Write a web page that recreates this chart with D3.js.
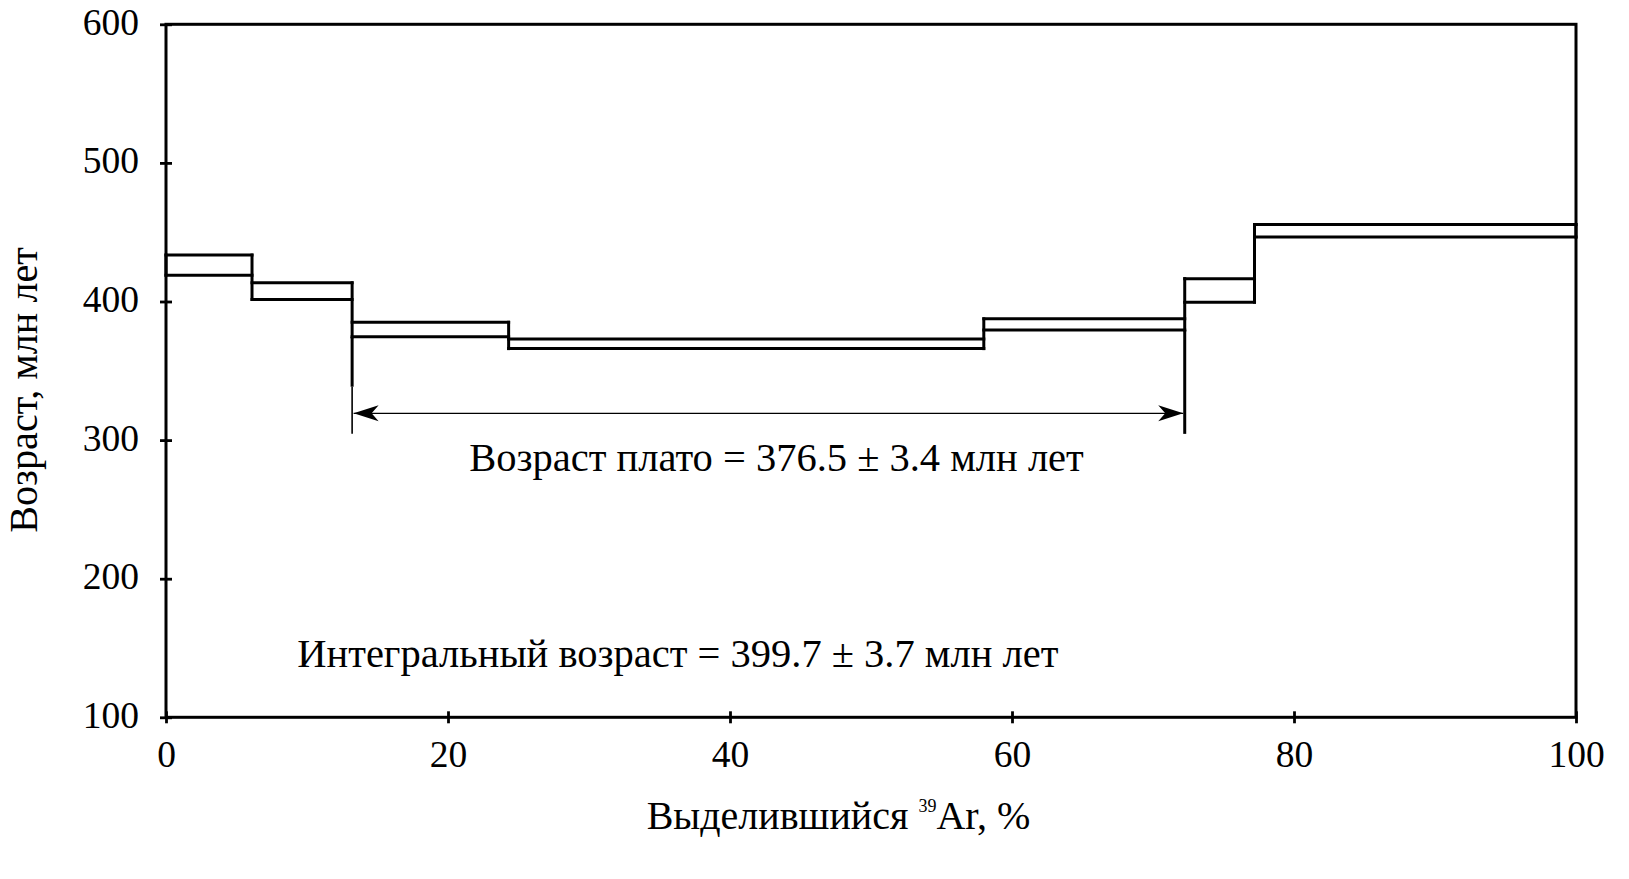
<!DOCTYPE html>
<html><head><meta charset="utf-8">
<script src="https://cdn.jsdelivr.net/npm/d3@7"></script>
<style>
body{margin:0;background:#fff;}
text{font-family:"Liberation Serif","Times New Roman",serif;fill:#000;}
</style>
</head><body>
<svg id="c" width="1629" height="879"></svg>
<script>
// ---- data ----
const stepEdges = [0, 6.1, 13.2, 24.3, 58.0, 72.25, 77.2, 100];   // % 39Ar released
const upperAge  = [433.5, 413.5, 385, 373, 387.5, 416.5, 455.5];  // Ma (age + error)
const lowerAge  = [419, 401.5, 374.5, 366, 379.5, 399.5, 446.5];  // Ma (age - error)
const xTickValues = [0, 20, 40, 60, 80, 100];
const yTickValues = [100, 200, 300, 400, 500, 600];
const plateauRange = [13.2, 72.25];
const plateauArrowAge = 319.3;
const plateauMarkerBottom = 304.5;
const plateauThickBottom = 338.5;
const plateauText = "Возраст плато = 376.5 ± 3.4 млн лет";
const integralText = "Интегральный возраст = 399.7 ± 3.7 млн лет";
const yTitle = "Возраст, млн лет";
const xTitleMain = "Выделившийся ", xTitleSup = "39", xTitleEnd = "Ar, %";

// ---- layout ----
const FONT = "Liberation Serif, Times New Roman, serif";
const x = d3.scaleLinear().domain([0, 100]).range([166, 1576]);
const y = d3.scaleLinear().domain([100, 600]).range([717.3, 24.3]);
const svg = d3.select("#c");
const SW = 3;

const defs = svg.append("defs");
defs.append("marker").attr("id", "ah")
  .attr("markerUnits", "userSpaceOnUse")
  .attr("viewBox", "-26 -9 27 18").attr("refX", 0).attr("refY", 0)
  .attr("markerWidth", 27).attr("markerHeight", 18)
  .attr("orient", "auto-start-reverse")
  .append("path").attr("d", "M0,0 L-25,-8 L-18,0 L-25,8 Z").attr("fill", "#000");

// steps: horizontal segments
const steps = upperAge.map((u, i) => ({x0: stepEdges[i], x1: stepEdges[i + 1], hi: u, lo: lowerAge[i]}));
const gs = svg.append("g").attr("stroke", "#000").attr("stroke-width", SW).attr("stroke-linecap", "square");
const hSegs = steps.flatMap(d => [{x0: d.x0, x1: d.x1, a: d.hi}, {x0: d.x0, x1: d.x1, a: d.lo}]);
gs.selectAll("line.h").data(hSegs).join("line").attr("class", "h")
  .attr("x1", d => x(d.x0)).attr("x2", d => x(d.x1))
  .attr("y1", d => y(d.a)).attr("y2", d => y(d.a));
// vertical connectors at each step edge
const vSegs = stepEdges.map((e, i) => {
  const adj = steps.slice(Math.max(0, i - 1), Math.min(steps.length, i + 1));
  return {x: e, top: d3.max(adj, d => d.hi), bot: d3.min(adj, d => d.lo)};
});
gs.selectAll("line.v").data(vSegs).join("line").attr("class", "v")
  .attr("x1", d => x(d.x)).attr("x2", d => x(d.x))
  .attr("y1", d => y(d.top)).attr("y2", d => y(d.bot));

// plateau markers
const i0 = stepEdges.indexOf(plateauRange[0]);
const i1 = stepEdges.indexOf(plateauRange[1]);
svg.append("line")
  .attr("x1", x(plateauRange[0])).attr("x2", x(plateauRange[0]))
  .attr("y1", y(vSegs[i0].bot)).attr("y2", y(plateauThickBottom))
  .attr("stroke", "#000").attr("stroke-width", SW);
svg.append("line")
  .attr("x1", x(plateauRange[0])).attr("x2", x(plateauRange[0]))
  .attr("y1", y(plateauThickBottom)).attr("y2", y(plateauMarkerBottom))
  .attr("stroke", "#000").attr("stroke-width", 1.6);
svg.append("line")
  .attr("x1", x(plateauRange[1])).attr("x2", x(plateauRange[1]))
  .attr("y1", y(vSegs[i1].bot)).attr("y2", y(plateauMarkerBottom))
  .attr("stroke", "#000").attr("stroke-width", SW);
svg.append("line")
  .attr("x1", x(plateauRange[0]) + 1.5).attr("x2", x(plateauRange[1]) - 1.5)
  .attr("y1", y(plateauArrowAge)).attr("y2", y(plateauArrowAge))
  .attr("stroke", "#000").attr("stroke-width", 1.3)
  .attr("marker-start", "url(#ah)").attr("marker-end", "url(#ah)");

// frame
svg.append("rect")
  .attr("x", x(0)).attr("y", y(600)).attr("width", x(100) - x(0)).attr("height", y(100) - y(600))
  .attr("fill", "none").attr("stroke", "#000").attr("stroke-width", 3);

// axes
const gx = svg.append("g").attr("transform", `translate(0,${y(100)})`)
  .call(d3.axisBottom(x).tickValues(xTickValues).tickSize(6).tickFormat(d3.format("d")));
gx.attr("font-family", FONT).attr("font-size", 37.5);
gx.select(".domain").remove();
gx.selectAll(".tick line").attr("y1", -6).attr("y2", 6).attr("stroke", "#000").attr("stroke-width", 2.8);
gx.selectAll(".tick text").attr("y", 50).attr("dy", null).attr("fill", "#000");

const gy = svg.append("g").attr("transform", `translate(${x(0)},0)`)
  .call(d3.axisLeft(y).tickValues(yTickValues).tickSize(6).tickFormat(d3.format("d")));
gy.attr("font-family", FONT).attr("font-size", 37.5);
gy.select(".domain").remove();
gy.selectAll(".tick line").attr("x1", -6).attr("x2", 6).attr("stroke", "#000").attr("stroke-width", 2.8);
gy.selectAll(".tick text").attr("x", -27).attr("dy", 10).attr("fill", "#000");

// annotations
svg.append("text").attr("x", x(43.3)).attr("y", y(277.5))
  .attr("text-anchor", "middle").attr("font-size", 40.5).text(plateauText);
svg.append("text").attr("x", x(36.3)).attr("y", y(136.3))
  .attr("text-anchor", "middle").attr("font-size", 40.5).text(integralText);

// axis titles
svg.append("text").attr("transform", `translate(37,390) rotate(-90)`)
  .attr("text-anchor", "middle").attr("font-size", 40.2).text(yTitle);
const xt = svg.append("text").attr("x", 838.5).attr("y", 829)
  .attr("text-anchor", "middle").attr("font-size", 40);
xt.append("tspan").text(xTitleMain);
xt.append("tspan").attr("font-size", 18).attr("dy", -17).text(xTitleSup);
xt.append("tspan").attr("dy", 17).text(xTitleEnd);
</script>
</body></html>
